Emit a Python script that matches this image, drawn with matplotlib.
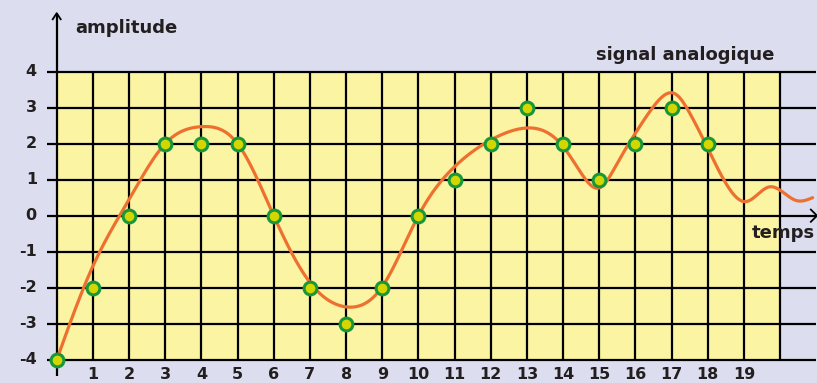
import numpy as np
import matplotlib
matplotlib.use("Agg")
import matplotlib.pyplot as plt

# Sampled values (digital signal)
sample_t = [0, 1, 2, 3, 4, 5, 6, 7, 8, 9, 10, 11, 12, 13, 14, 15, 16, 17, 18]
sample_v = [-4, -2, 0, 2, 2, 2, 0, -2, -3, -2, 0, 1, 2, 3, 2, 1, 2, 3, 2]

# Analog signal control points
curve_t = [0, 1, 2, 3, 4, 5, 6, 7, 8, 9, 10, 11, 12, 12.8, 14, 14.5, 15,
           15.5, 16, 16.5, 17.1, 17.5, 18, 18.5, 19.05, 19.7, 20.45, 20.9]
curve_v = [-4, -1.4, 0.45, 2.0, 2.47, 2.0, 0, -1.85, -2.53, -1.97, 0, 1.36,
           2.1, 2.41, 1.92, 1.18, 0.77, 1.46, 2.29, 3.03, 3.38, 2.85, 1.87,
           0.9, 0.39, 0.8, 0.42, 0.5]

x_ticks = list(range(1, 20))
y_ticks = [4, 3, 2, 1, 0, -1, -2, -3, -4]

BG = "#dcdeef"
CELL = "#fbf4a3"
ORANGE = "#ee7030"
FACE = "#d4d600"
EDGE = "#17963a"
INK = "#231f20"


def natural_spline(x, y, xs):
    x = np.asarray(x, float)
    y = np.asarray(y, float)
    n = len(x)
    h = np.diff(x)
    A = np.zeros((n, n))
    b = np.zeros(n)
    A[0, 0] = A[-1, -1] = 1
    for i in range(1, n - 1):
        A[i, i - 1] = h[i - 1]
        A[i, i] = 2 * (h[i - 1] + h[i])
        A[i, i + 1] = h[i]
        b[i] = 3 * ((y[i + 1] - y[i]) / h[i] - (y[i] - y[i - 1]) / h[i - 1])
    c = np.linalg.solve(A, b)
    idx = np.clip(np.searchsorted(x, xs) - 1, 0, n - 2)
    dx = xs - x[idx]
    bb = (y[idx + 1] - y[idx]) / h[idx] - h[idx] * (2 * c[idx] + c[idx + 1]) / 3
    d = (c[idx + 1] - c[idx]) / (3 * h[idx])
    return y[idx] + bb * dx + c[idx] * dx ** 2 + d * dx ** 3


plt.rcParams["font.family"] = ["DejaVu Sans"]

fig = plt.figure(figsize=(8.17, 3.83), dpi=100, facecolor=BG)
ax = fig.add_axes([0, 0, 1, 1])
ax.set_facecolor(BG)
ax.set_xlim(-1.568, 21.02)
ax.set_ylim(-4.642, 5.985)
ax.axis("off")

# yellow grid area
ax.add_patch(plt.Rectangle((0, -4), 20, 8, facecolor=CELL, edgecolor="none", zorder=0))

lw = 1.6
for v in y_ticks:
    ax.plot([-0.28, 21.0], [v, v], color="black", lw=lw, zorder=1,
            solid_capstyle="butt")
for t in x_ticks + [20]:
    ax.plot([t, t], [-4, 4], color="black", lw=lw, zorder=1,
            solid_capstyle="butt")

# axes with arrows
ax.plot([0, 0], [-4.45, 5.6], color="black", lw=lw, zorder=1,
        solid_capstyle="butt")
ax.plot([-0.11, 0, 0.11], [5.45, 5.62, 5.45], color="black", lw=1.3, zorder=1)
ax.plot([20.85, 21.02, 20.85], [0.17, 0, -0.17], color="black", lw=1.3, zorder=1)

# analog curve
ts = np.linspace(curve_t[0], curve_t[-1], 800)
ax.plot(ts, natural_spline(curve_t, curve_v, ts), color=ORANGE, lw=2.3,
        zorder=2, solid_capstyle="round")

# samples
ax.plot(sample_t, sample_v, linestyle="none", marker="o", markersize=9.2,
        markerfacecolor=FACE, markeredgecolor=EDGE, markeredgewidth=2.2,
        zorder=3, clip_on=False)

fs = 11.5
for v in y_ticks:
    ax.text(-0.55, v, f"{v}", ha="right", va="center", fontsize=fs,
            fontweight="bold", color=INK)
for t in x_ticks:
    ax.text(t, -4.2, f"{t}", ha="center", va="top", fontsize=fs,
            fontweight="bold", color=INK)

tfs = 13
ax.text(0.5, 5.2, "amplitude", ha="left", va="center", fontsize=tfs,
        fontweight="bold", color=INK)
ax.text(19.85, 4.47, "signal analogique", ha="right", va="center",
        fontsize=tfs, fontweight="bold", color=INK)
ax.text(20.97, -0.47, "temps", ha="right", va="center", fontsize=tfs,
        fontweight="bold", color=INK)

fig.savefig("out.png", dpi=100, facecolor=BG)
